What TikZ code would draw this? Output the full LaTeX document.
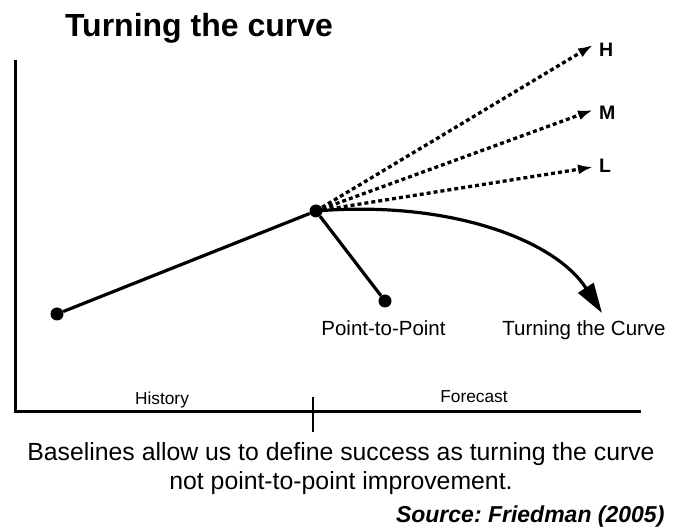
\documentclass[tikz,border=0pt]{standalone}
\usepackage{fontspec}
\setmainfont{Liberation Sans}
\usetikzlibrary{arrows.meta,positioning}
\frenchspacing

\begin{document}
\begin{tikzpicture}[x=1pt,y=-1pt,
  dot/.style={circle,fill=black,inner sep=0pt,minimum size=13pt},
  axis/.style={line width=3pt},
  trend/.style={line width=3.2pt},
  scen/.style={line width=3.3pt,dash pattern=on 4pt off 3pt,
    -{Latex[length=15pt,width=10pt]}},
  lbl/.style={font=\fontsize{20.5}{24}\selectfont,anchor=base},
  small/.style={font=\fontsize{17.3}{20}\selectfont,anchor=base},
  captionText/.style={font=\fontsize{24.8}{28}\selectfont,anchor=base}]
  \useasboundingbox (0,0) rectangle (673,529);
  % Title
  \node[font=\fontsize{32}{36}\selectfont\bfseries,anchor=base] (title) at (199,37) {Turning the curve};
  % Axes
  \coordinate (ytop) at (15,60);
  \coordinate (origin) at (15,412);
  \coordinate (xend) at (641,412);
  \draw[axis] (ytop) -- (origin) -- (xend);
  \coordinate (tickTop) at (313,397);
  \coordinate (tickBot) at (313,432);
  \draw[line width=1.4pt] (tickTop) -- (tickBot);
  \node[small] (history) at (162,405) {History};
  \node[small] (forecast) at (474,403) {Forecast};
  % Points
  \node[dot] (start) at (57,314) {};
  \node[dot] (pivot) at (316,211) {};
  \node[dot] (ptp) at (385,301) {};
  \draw[trend] (start) -- (pivot);
  \draw[trend] (pivot) -- (ptp);
  % Turning the curve
  \coordinate (tcTip) at (602,313);
  \draw[trend,-{Triangle[length=30pt,width=18pt]}] (pivot.center)
    .. controls (450,200) and (555,240) .. (tcTip);
  % Scenarios
  \foreach \name/\y/\b in {H/45/57,M/110/120,L/167/173}{
    \coordinate (tip\name) at (593,\y);
    \draw[scen] (pivot.center) -- (tip\name);
    \node[font=\fontsize{19.5}{22}\selectfont\bfseries,anchor=base west,inner xsep=0pt] (lab\name) at (599,\b) {\name};
  }
  \node[lbl] (ptpLabel) at (383.5,336) {Point-to-Point};
  \node[lbl] (tcLabel) at (584,336) {Turning the Curve};
  % Caption
  \node[captionText] (capA) at (341,461) {Baselines allow us to define success as turning the curve};
  \node[captionText] (capB) at (341,490) {not point-to-point improvement.};
  \node[font=\fontsize{23}{26}\selectfont\bfseries\itshape,anchor=base east] (source) at (668,523) {Source: Friedman (2005)};
\end{tikzpicture}
\end{document}
